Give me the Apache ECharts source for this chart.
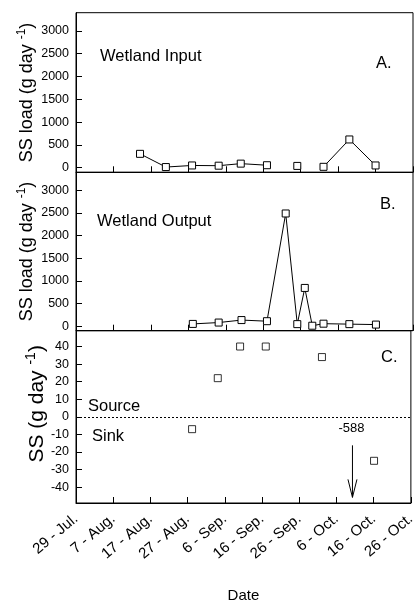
<!DOCTYPE html>
<html>
<head>
<meta charset="utf-8">
<script src="https://cdn.jsdelivr.net/npm/echarts@6/dist/echarts.min.js"></script>
<style>
html,body{margin:0;padding:0;background:#fff;}
#chart{width:418px;height:604px;}
</style>
</head>
<body>
<div id="chart"></div>
<script>
// ---- data ----
const xTickLabels = ['29 - Jul.', '7 - Aug.', '17 - Aug.', '27 - Aug.', '6 - Sep.', '16 - Sep.', '26 - Sep.', '6 - Oct.', '16 - Oct.', '26 - Oct.'];
const inputX = [1.71, 2.40, 3.10, 3.81, 4.40, 5.10, 5.91, 6.61, 7.30, 8.00];
const inputY = [305, 15, 50, 45, 90, 55, 40, 20, 620, 50];
const inputBreaksAfter = [5, 6];
const outputX = [3.12, 3.81, 4.42, 5.10, 5.60, 5.91, 6.11, 6.31, 6.61, 7.30, 8.01];
const outputY = [50, 80, 135, 110, 2490, 45, 845, 10, 55, 45, 35];
const balanceX = [3.12, 3.81, 4.41, 5.10, 6.61, 8.01];
const balanceY = [-7, 22, 40, 40, 34, -25];
const offscaleX = [7.43];
const offscaleY = [-588];
const loadTicks = [0, 500, 1000, 1500, 2000, 2500, 3000];
const balanceTicks = [-40, -30, -20, -10, 0, 10, 20, 30, 40];

// ---- build ----
const FONT = 'Liberation Sans, Arial, sans-serif';
function lineData(xs, ys, breaks) {
  const out = [];
  xs.forEach((x, i) => {
    out.push([x, ys[i]]);
    if (breaks.indexOf(i) >= 0 && i < xs.length - 1) out.push([(x + xs[i + 1]) / 2, '-']);
  });
  return out;
}
const markerStyle = { color: '#fff', borderColor: '#000', borderWidth: 1 };
const grids = [
  { left: 76, right: 5, top: 12.7, height: 159.6 },
  { left: 76, right: 5, top: 172.3, height: 158.4 },
  { left: 76, right: 5, top: 330.7, height: 177 }
].map(g => Object.assign({ show: true, borderColor: '#000', borderWidth: 1, backgroundColor: 'transparent' }, g));

function xAxis(i, showLabels) {
  return {
    type: 'value', gridIndex: i, min: 0, max: 9, interval: 1,
    axisLine: { show: true, onZero: false, lineStyle: { color: '#000', width: 1 } },
    axisTick: { show: true, inside: true, length: 6, lineStyle: { color: '#000' } },
    splitLine: { show: false },
    axisLabel: showLabels ? {
      show: true, rotate: 40, margin: 14, color: '#000', fontFamily: FONT, fontSize: 15,
      showMinLabel: true, showMaxLabel: true,
      formatter: v => xTickLabels[Math.round(v)] || ''
    } : { show: false },
    name: showLabels ? 'Date' : '',
    nameLocation: 'middle', nameGap: 85,
    nameTextStyle: { color: '#000', fontFamily: FONT, fontSize: 15 }
  };
}
function yAxis(i, min, max, ticks, name, gap, pad, fs) {
  return {
    type: 'value', gridIndex: i, min: min, max: max,
    axisLine: { show: true, onZero: false, lineStyle: { color: '#000', width: 1 } },
    axisTick: { show: true, inside: true, length: 6, customValues: ticks, lineStyle: { color: '#000' } },
    axisLabel: { show: true, customValues: ticks, margin: 7, color: '#000', fontFamily: FONT, fontSize: 12.5, formatter: v => String(v) },
    splitLine: { show: false },
    name: name, nameLocation: 'middle', nameGap: gap, nameMoveOverlap: false,
    nameTextStyle: {
      color: '#000', fontFamily: FONT, fontSize: fs, padding: pad,
      rich: { sup: { fontSize: Math.round(fs * 0.65), fontFamily: FONT, color: '#000', verticalAlign: 'bottom', padding: [0, 0, Math.round(fs * 0.55), 0] } }
    }
  };
}

const option = {
  animation: false,
  backgroundColor: '#fff',
  grid: grids,
  xAxis: [xAxis(0, false), xAxis(1, false), xAxis(2, true)],
  yAxis: [
    yAxis(0, -100, 3400, loadTicks, 'SS load (g day {sup|-1})', 38, [0, 0, 0, 0], 18),
    yAxis(1, -100, 3400, loadTicks, 'SS load (g day {sup|-1})', 38, [0, 0, 0, 0], 18),
    yAxis(2, -49, 49, balanceTicks, 'SS (g day {sup|-1})', 26, [0, 0, 0, 26], 21)
  ],
  series: [
    {
      type: 'line', xAxisIndex: 0, yAxisIndex: 0, data: lineData(inputX, inputY, inputBreaksAfter),
      symbol: 'rect', symbolSize: 7, showAllSymbol: true, connectNulls: false,
      itemStyle: markerStyle, lineStyle: { color: '#000', width: 1 }, z: 3
    },
    {
      type: 'line', xAxisIndex: 1, yAxisIndex: 1, data: outputX.map((x, i) => [x, outputY[i]]),
      symbol: 'rect', symbolSize: 7, showAllSymbol: true,
      itemStyle: markerStyle, lineStyle: { color: '#000', width: 1 }, z: 3
    },
    {
      type: 'scatter', xAxisIndex: 2, yAxisIndex: 2, data: balanceX.map((x, i) => [x, balanceY[i]]),
      symbol: 'rect', symbolSize: 7, itemStyle: markerStyle, z: 3,
      markLine: {
        silent: true, symbol: ['none', 'none'], label: { show: false },
        lineStyle: { color: '#000', type: [2, 2], width: 1 },
        data: [{ yAxis: 0 }]
      }
    },
    {
      type: 'custom', xAxisIndex: 2, yAxisIndex: 2,
      data: offscaleX.map((x, i) => [x, -16.2, -45.8, offscaleY[i]]),
      encode: { x: 0, y: [1, 2] },
      renderItem: function (params, api) {
        const x = api.value(0);
        const p1 = api.coord([x, api.value(1)]);
        const p2 = api.coord([x, api.value(2)]);
        return {
          type: 'group', children: [
            { type: 'line', shape: { x1: p1[0], y1: p1[1], x2: p2[0], y2: p2[1] }, style: { stroke: '#000', lineWidth: 1 } },
            { type: 'polyline', shape: { points: [[p2[0] - 4.5, p2[1] - 18], [p2[0], p2[1]], [p2[0] + 4.5, p2[1] - 18]] }, style: { stroke: '#000', fill: null, lineWidth: 1 } },
            { type: 'text', style: { text: String(api.value(3)), x: p1[0] - 1, y: p1[1] - 16.5, align: 'center', verticalAlign: 'middle', font: '13px ' + FONT, fill: '#000' } }
          ]
        };
      }
    }
  ],
  graphic: [
    { type: 'text', left: 100, top: 48, style: { text: 'Wetland Input', font: '16.5px ' + FONT, fill: '#000' } },
    { type: 'text', left: 376, top: 55, style: { text: 'A.', font: '16.5px ' + FONT, fill: '#000' } },
    { type: 'text', left: 97, top: 213, style: { text: 'Wetland Output', font: '16.5px ' + FONT, fill: '#000' } },
    { type: 'text', left: 380, top: 196, style: { text: 'B.', font: '16.5px ' + FONT, fill: '#000' } },
    { type: 'text', left: 381, top: 349, style: { text: 'C.', font: '16.5px ' + FONT, fill: '#000' } },
    { type: 'text', left: 88, top: 398, style: { text: 'Source', font: '16.5px ' + FONT, fill: '#000' } },
    { type: 'text', left: 92, top: 428, style: { text: 'Sink', font: '16.5px ' + FONT, fill: '#000' } }
  ]
};
const chart = echarts.init(document.getElementById('chart'), null, { renderer: 'canvas' });
chart.setOption(option);
</script>
</body>
</html>
